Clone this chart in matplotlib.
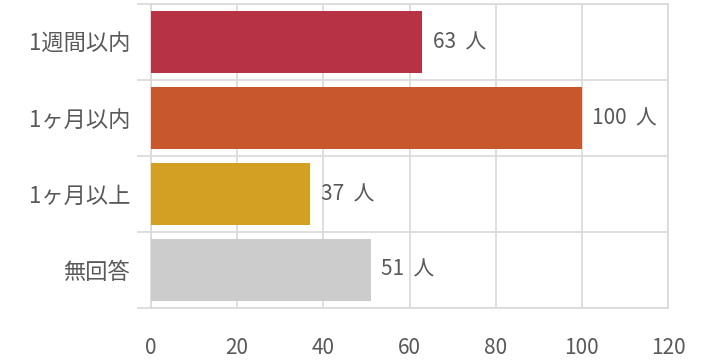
import matplotlib.pyplot as plt
import numpy as np

plt.rcParams['font.family'] = ['Noto Sans CJK JP', 'DejaVu Sans']

categories = ['1週間以内', '1ヶ月以内', '1ヶ月以上', '無回答']
counts = [63, 100, 37, 51]
colors = ['#b83246', '#c8572b', '#d4a023', '#cccccc']
xticks = [0, 20, 40, 60, 80, 100, 120]

text_color = '#595959'
grid_color = '#d9d9d9'

fig = plt.figure(figsize=(7.11, 3.61), dpi=100)
ax = fig.add_axes([0.2124, 0.1468, 0.7271, 0.842])

y = np.arange(len(categories))
ax.barh(y, counts, height=0.82, color=colors, zorder=3)

for yi, v in zip(y, counts):
    ax.text(v + 2.4, yi, f'{v}  人', va='center', ha='left',
            fontsize=15, color=text_color, zorder=4)

ax.set_xlim(0, 120)
ax.set_ylim(len(categories) - 0.5, -0.5)
ax.set_xticks(xticks)
ax.set_xticklabels([str(t) for t in xticks])
ax.set_yticks(y)
ax.set_yticklabels(categories)
ax.set_yticks(np.arange(len(categories) + 1) - 0.5, minor=True)

ax.tick_params(axis='x', length=0, pad=21, labelsize=15, labelcolor=text_color)
ax.tick_params(axis='y', which='major', length=0, pad=15, labelsize=16,
               labelcolor=text_color)
ax.tick_params(axis='y', which='minor', length=10, width=1.2, color=grid_color)

ax.grid(axis='x', color=grid_color, linewidth=1.2, zorder=0)
ax.grid(axis='y', which='minor', color=grid_color, linewidth=1.2, zorder=0)
for s in ax.spines.values():
    s.set_color(grid_color)
    s.set_linewidth(1.2)

fig.savefig('out.png', dpi=100)
